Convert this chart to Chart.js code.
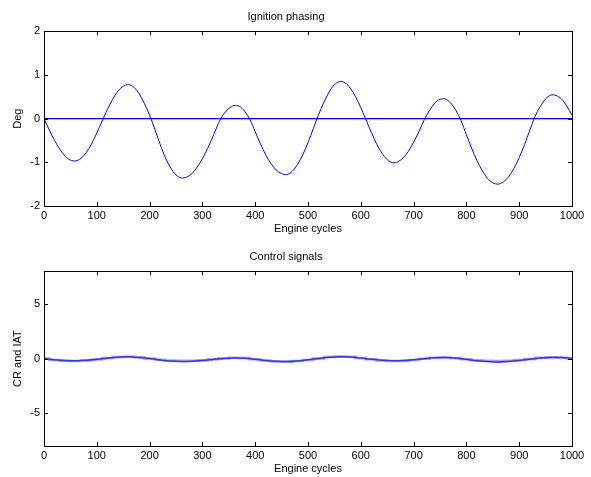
<!DOCTYPE html>
<html>
<head>
<meta charset="utf-8">
<script src="https://cdn.jsdelivr.net/npm/chart.js@4.4.1/dist/chart.umd.min.js"></script>
<style>
html,body{margin:0;padding:0;background:#fff;overflow:hidden;width:591px;height:477px;}
canvas{position:absolute;left:0;}
#c1{top:0;}
#c2{top:240px;}
</style>
</head>
<body>
<canvas id="c1" width="591" height="240"></canvas>
<canvas id="c2" width="591" height="240"></canvas>
<script>
// ---- Data ----
const cycles = [0,10,20,30,40,50,60,70,80,90,100,110,120,130,140,150,160,170,180,190,200,210,220,230,240,250,260,270,280,290,300,310,320,330,340,350,360,370,380,390,400,410,420,430,440,450,460,470,480,490,500,510,520,530,540,550,560,570,580,590,600,610,620,630,640,650,660,670,680,690,700,710,720,730,740,750,760,770,780,790,800,810,820,830,840,850,860,870,880,890,900,910,920,930,940,950,960,970,980,990,1000];
const phasing = [0.00,-0.26,-0.50,-0.70,-0.86,-0.95,-0.97,-0.91,-0.78,-0.58,-0.33,-0.06,0.21,0.44,0.63,0.74,0.78,0.72,0.57,0.35,0.08,-0.25,-0.59,-0.90,-1.13,-1.29,-1.36,-1.34,-1.26,-1.11,-0.92,-0.68,-0.41,-0.12,0.10,0.23,0.30,0.28,0.17,-0.02,-0.30,-0.58,-0.83,-1.03,-1.18,-1.26,-1.28,-1.21,-1.05,-0.83,-0.55,-0.23,0.09,0.37,0.61,0.78,0.85,0.82,0.70,0.50,0.25,-0.03,-0.32,-0.58,-0.79,-0.94,-1.01,-0.99,-0.90,-0.75,-0.54,-0.30,-0.03,0.18,0.35,0.44,0.45,0.36,0.19,-0.05,-0.37,-0.68,-0.96,-1.19,-1.37,-1.47,-1.50,-1.45,-1.33,-1.14,-0.89,-0.60,-0.27,0.05,0.28,0.45,0.54,0.53,0.45,0.29,0.08];
const referenceCycles = [0,1000];
const referenceLevel = [0,0];

const cycles20 = [0,20,40,60,80,100,120,140,160,180,200,220,240,260,280,300,320,340,360,380,400,420,440,460,480,500,520,540,560,580,600,620,640,660,680,700,720,740,760,780,800,820,840,860,880,900,920,940,960,980,1000];
const signalCR = [0,-0.10,-0.17,-0.19,-0.16,-0.07,0.04,0.13,0.16,0.11,0.02,-0.12,-0.23,-0.27,-0.25,-0.18,-0.08,0.02,0.06,0.03,-0.06,-0.17,-0.24,-0.26,-0.21,-0.11,0.02,0.12,0.17,0.14,0.05,-0.06,-0.16,-0.20,-0.18,-0.11,-0.01,0.07,0.09,0.04,-0.07,-0.19,-0.27,-0.30,-0.27,-0.18,-0.05,0.06,0.11,0.09,0.02];
const signalIAT = [0,-0.12,-0.20,-0.22,-0.18,-0.08,0.05,0.15,0.18,0.13,0.02,-0.10,-0.18,-0.20,-0.19,-0.14,-0.06,0.03,0.08,0.05,-0.06,-0.18,-0.26,-0.28,-0.23,-0.12,0.02,0.14,0.20,0.17,0.06,-0.07,-0.18,-0.23,-0.21,-0.12,-0.01,0.08,0.11,0.05,-0.06,-0.14,-0.19,-0.21,-0.19,-0.13,-0.04,0.07,0.13,0.11,0.03];

const xTicks = [0,100,200,300,400,500,600,700,800,900,1000];
const yTicksTop = [-2,-1,0,1,2];
const yTicksBottom = [-5,0,5];

// ---- helpers ----
const FONT = {family: "'Liberation Sans', Arial, sans-serif", size: 11, weight: 'normal'};
const pts = (xs, ys) => xs.map((x, i) => ({x: x, y: ys[i]}));

const boxPlugin = {
  id: 'matlabBox',
  afterDatasetsDraw(chart) {
    const {ctx, chartArea: a, scales} = chart;
    ctx.save();
    ctx.strokeStyle = '#000';
    ctx.lineWidth = 1;
    const L = 4;
    ctx.beginPath();
    scales.x.ticks.forEach(t => {
      const px = Math.round(scales.x.getPixelForValue(t.value)) + 0.5;
      ctx.moveTo(px, a.bottom); ctx.lineTo(px, a.bottom - L);
      ctx.moveTo(px, a.top); ctx.lineTo(px, a.top + L);
    });
    scales.y.ticks.forEach(t => {
      const py = Math.round(scales.y.getPixelForValue(t.value)) + 0.5;
      ctx.moveTo(a.left, py); ctx.lineTo(a.left + L, py);
      ctx.moveTo(a.right, py); ctx.lineTo(a.right - L, py);
    });
    ctx.stroke();
    ctx.strokeRect(Math.round(a.left) + 0.5, Math.round(a.top) + 0.5,
                   Math.round(a.right - a.left), Math.round(a.bottom - a.top));
    ctx.restore();
  }
};

function makeOptions(title, yTitle, yMin, yMax, yTicks) {
  return {
    responsive: false,
    animation: false,
    layout: {padding: {left: 0, right: 19, top: 0, bottom: 0}},
    plugins: {
      legend: {display: false},
      tooltip: {enabled: false},
      title: {display: true, text: title, color: '#000', font: FONT, padding: {top: 10, bottom: 8}}
    },
    elements: {point: {radius: 0}, line: {borderWidth: 1}},
    scales: {
      x: {
        type: 'linear', min: 0, max: 1000,
        afterBuildTicks(s) { s.ticks = xTicks.map(v => ({value: v})); },
        ticks: {color: '#000', font: FONT, padding: 3, maxRotation: 0, autoSkip: false, callback: v => String(v)},
        grid: {display: false, drawTicks: false},
        border: {display: false},
        title: {display: true, text: 'Engine cycles', color: '#000', font: FONT, padding: {top: 0, bottom: 4}},
        afterFit(s) { s.height = 34; }
      },
      y: {
        type: 'linear', min: yMin, max: yMax,
        afterBuildTicks(s) { s.ticks = yTicks.map(v => ({value: v})); },
        ticks: {color: '#000', font: FONT, padding: 4, callback: v => String(v)},
        grid: {display: false, drawTicks: false},
        border: {display: false},
        title: {display: true, text: yTitle, color: '#000', font: FONT, padding: {top: 11, bottom: 0}},
        afterFit(s) { s.width = 44; }
      }
    }
  };
}

new Chart(document.getElementById('c1'), {
  type: 'line',
  data: {
    datasets: [
      {data: pts(cycles, phasing), borderColor: '#0000ff', borderWidth: 1, tension: 0.3, fill: false},
      {data: pts(referenceCycles, referenceLevel), borderColor: '#0000ff', borderWidth: 1.2, fill: false}
    ]
  },
  options: makeOptions('Ignition phasing', 'Deg', -2, 2, yTicksTop),
  plugins: [boxPlugin]
});

new Chart(document.getElementById('c2'), {
  type: 'line',
  data: {
    datasets: [
      {data: pts(cycles20, signalIAT), borderColor: 'rgba(90,90,255,0.55)', borderWidth: 2.5, stepped: 'middle', fill: false},
      {data: pts(cycles20, signalCR), borderColor: '#0000ff', borderWidth: 1.5, tension: 0.3, fill: false}
    ]
  },
  options: makeOptions('Control signals', 'CR and IAT', -8, 8, yTicksBottom),
  plugins: [boxPlugin]
});
</script>
</body>
</html>
